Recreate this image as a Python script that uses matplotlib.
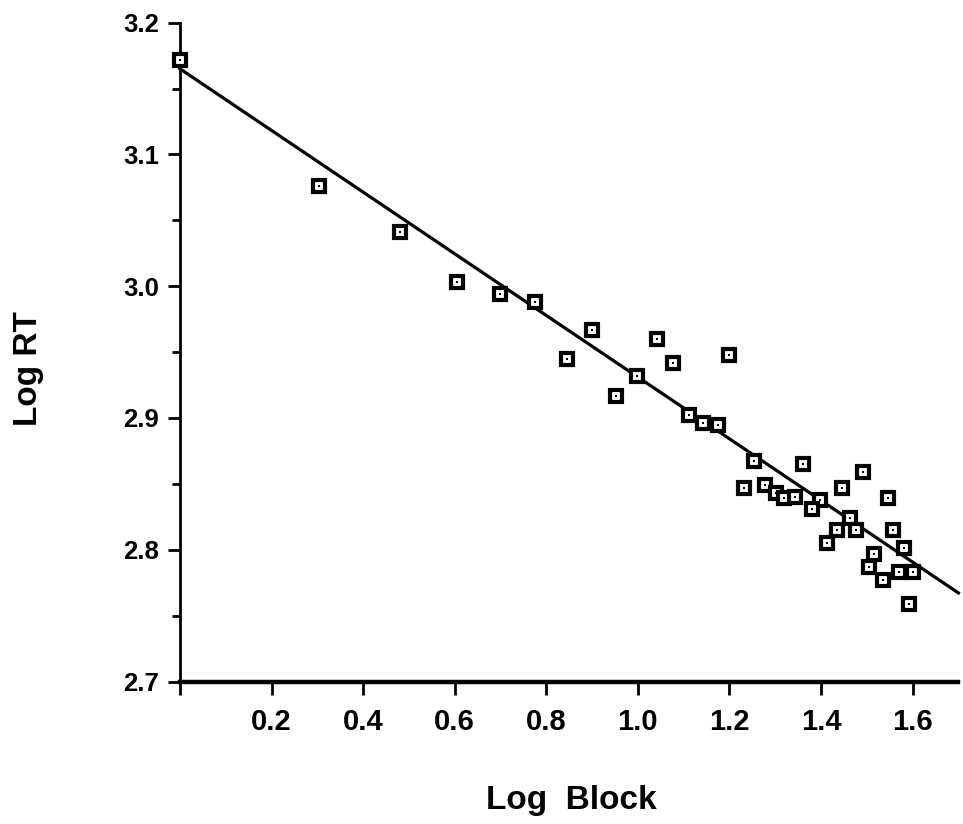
import matplotlib
matplotlib.use("Agg")
import matplotlib.pyplot as plt
from matplotlib.ticker import MultipleLocator
import numpy as np

# Log Block vs Log RT
LOG_BLOCK = [0.000, 0.304, 0.481, 0.604, 0.698, 0.775, 0.845, 0.899, 0.952, 0.997,
             1.041, 1.076, 1.200, 1.112, 1.142, 1.176, 1.254, 1.360, 1.232, 1.277,
             1.302, 1.319, 1.343, 1.492, 1.445, 1.398, 1.380, 1.547, 1.463, 1.434,
             1.476, 1.414, 1.558, 1.581, 1.516, 1.505, 1.571, 1.600, 1.535, 1.593]
LOG_RT = [3.172, 3.076, 3.041, 3.003, 2.994, 2.988, 2.945, 2.967, 2.917, 2.932,
          2.960, 2.942, 2.948, 2.902, 2.896, 2.895, 2.867, 2.865, 2.847, 2.849,
          2.843, 2.839, 2.840, 2.859, 2.847, 2.838, 2.831, 2.839, 2.824, 2.815,
          2.815, 2.805, 2.815, 2.801, 2.797, 2.787, 2.783, 2.783, 2.777, 2.759]

# fitted line as drawn
FIT_INTERCEPT = 3.165
FIT_SLOPE = -0.234
FIT_RANGE = [0.0, 1.70]

XTICKS = [0.0, 0.2, 0.4, 0.6, 0.8, 1.0, 1.2, 1.4, 1.6]
XTICKLABELS = ["", "0.2", "0.4", "0.6", "0.8", "1.0", "1.2", "1.4", "1.6"]
YTICKS = [2.7, 2.8, 2.9, 3.0, 3.1, 3.2]

plt.rcParams["font.family"] = ["Liberation Sans", "DejaVu Sans"]

fig = plt.figure(figsize=(9.63, 8.24), dpi=100)
ax = fig.add_axes([180 / 963, 1 - 681.5 / 824, (1.70 * 457.9) / 963, (681.5 - 22.7) / 824])

fx = np.array(FIT_RANGE)
ax.plot(fx, FIT_INTERCEPT + FIT_SLOPE * fx, color="black", lw=2.3, zorder=2, clip_on=False)

ax.plot(LOG_BLOCK, LOG_RT, ls="none", marker="s", ms=9, mfc="white", mec="black",
        mew=3.0, zorder=3, clip_on=False)
ax.plot(LOG_BLOCK, LOG_RT, ls="none", marker="s", ms=1.8, mfc="black", mec="black",
        mew=0, zorder=4, clip_on=False)

ax.set_xlim(0, 1.70)
ax.set_ylim(2.7, 3.2)
ax.set_xticks(XTICKS)
ax.set_xticklabels(XTICKLABELS, fontsize=21, fontweight="bold")
ax.set_yticks(YTICKS)
ax.set_yticklabels([f"{v:.1f}" for v in YTICKS], fontsize=18.5, fontweight="bold")
ax.yaxis.set_minor_locator(MultipleLocator(0.05))

for s in ("top", "right"):
    ax.spines[s].set_visible(False)
ax.spines["bottom"].set_linewidth(3.2)
ax.spines["left"].set_linewidth(2.0)
ax.tick_params(axis="x", which="major", direction="out", length=9, width=2.0, pad=10)
ax.tick_params(axis="y", which="major", direction="out", length=9, width=2.0, pad=6)
ax.tick_params(axis="y", which="minor", direction="out", length=6, width=2.0)

fig.text(0.5 + 90 / 963, 1 - 801 / 824, "Log  Block", ha="center", va="center",
         fontsize=24, fontweight="bold")
fig.text(28 / 963, 1 - 369 / 824, "Log RT", ha="center", va="center", rotation=90,
         fontsize=24, fontweight="bold")

fig.savefig("out.png", dpi=100)
